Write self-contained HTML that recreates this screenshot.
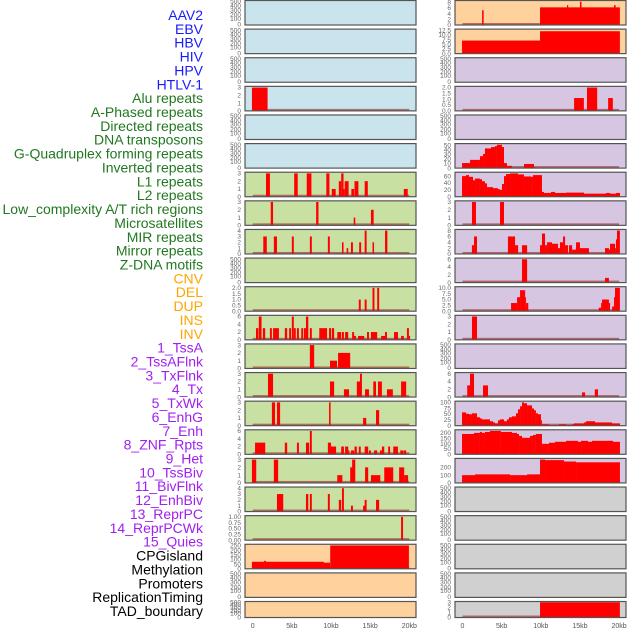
<!DOCTYPE html>
<html><head><meta charset="utf-8">
<style>
html,body{margin:0;padding:0;background:#fff;}
svg{display:block;font-family:"Liberation Sans",sans-serif;}
</style></head>
<body>
<svg id="chart" width="630" height="630" viewBox="0 0 630 630" xmlns="http://www.w3.org/2000/svg">
<g id="labels"></g>
<g id="panels"></g>
<g id="xaxes"></g>
</svg>
<script>
const featureLabels = ["AAV2","EBV","HBV","HIV","HPV","HTLV-1","Alu repeats","A-Phased repeats","Directed repeats","DNA transposons","G-Quadruplex forming repeats","Inverted repeats","L1 repeats","L2 repeats","Low_complexity A/T rich regions","Microsatellites","MIR repeats","Mirror repeats","Z-DNA motifs","CNV","DEL","DUP","INS","INV","1_TssA","2_TssAFlnk","3_TxFlnk","4_Tx","5_TxWk","6_EnhG","7_Enh","8_ZNF_Rpts","9_Het","10_TssBiv","11_BivFlnk","12_EnhBiv","13_ReprPC","14_ReprPCWk","15_Quies","CPGisland","Methylation","Promoters","ReplicationTiming","TAD_boundary"];
const labelGroups = [0,0,0,0,0,0,1,1,1,1,1,1,1,1,1,1,1,1,1,2,2,2,2,2,3,3,3,3,3,3,3,3,3,3,3,3,3,3,3,4,4,4,4,4];
const groupColors = ["#1a1aff","#217821","#ffa500","#a020f0","#000000"];
const panelGroupBg = ["#c9e4ec","#c8e1a3","#ffd19d","#d7c6e2","#d0d0d0"];
const xTickValues = [0,5,10,15,20];
const xTickLabels = ["0","5kb","10kb","15kb","20kb"];
const emptyTickLabels = ["500","400","300","200","100","0"];

// Left column panels (rows 0-21), bars: [startKb, endKb, value]
const bars_AAV2 = [], bars_EBV = [], bars_HBV = [];
const bars_HIV = [[-0.1,1.9,3]];
const bars_HPV = [], bars_HTLV1 = [];
const bars_Alu = [[1.7,2.2,3],[5.3,5.75,3],[6.9,7.5,3],[9.4,9.8,3],[10.1,10.6,1],[11.0,11.3,2],[11.3,11.6,3],[11.6,11.75,1],[11.75,12.25,2],[12.6,12.95,1],[13.0,13.5,2],[14.3,14.7,2],[19.3,19.8,1]];
const bars_APhased = [[2.3,2.6,3],[8.1,8.4,3],[12.9,13.1,1],[15.1,15.45,2]];
const bars_Directed = [[1.35,1.8,3],[2.7,3.1,3],[5.0,5.25,3],[7.3,7.55,3],[9.6,9.85,3],[11.4,11.6,2],[12.0,12.2,1],[12.55,12.8,2],[13.6,13.85,2],[14.3,14.55,4],[15.3,15.5,2],[16.9,17.2,4]];
const bars_DNAtrans = [];
const bars_GQuad = [[13.55,13.8,1],[14.3,14.55,1],[15.3,15.55,2],[15.9,16.15,2]];
const bars_Inverted = [[0.42,0.72,3],[0.78,1.13,6],[1.3,1.6,3],[2.2,2.45,3],[2.6,3.35,3],[4.1,4.4,3],[4.65,4.9,3],[5.0,5.25,6],[5.25,5.5,3],[5.65,5.9,3],[6.2,6.45,3],[6.55,6.8,3],[6.8,7.1,6],[7.3,7.55,3],[8.5,9.5,3],[9.75,10.0,3],[10.1,10.4,3],[10.8,11.3,2],[11.4,11.65,2],[11.8,12.2,2],[12.7,12.95,2],[12.95,13.2,1],[13.45,14.25,1],[14.6,14.85,2],[15.1,15.9,2],[16.4,16.9,1],[16.9,17.15,2],[18.05,18.55,2],[18.95,19.3,1],[19.7,19.95,3],[19.95,20.1,1]];
const bars_L1 = [[7.3,7.85,3],[9.87,10.77,1],[10.9,12.45,2]];
const bars_L2 = [[1.95,2.6,3],[9.87,10.4,2],[11.65,12.3,1],[13.3,13.8,2],[13.7,13.95,3],[14.35,14.85,1],[15.4,15.75,2],[16.0,16.5,2],[17.15,17.9,1],[18.95,19.6,2]];
const bars_LowComp = [[2.45,2.85,3],[3.1,3.5,3],[9.75,9.95,3],[14.1,14.5,1],[15.75,16.15,2]];
const bars_Micro = [[0.3,0.8,3],[0.8,1.6,3],[4.1,4.4,3],[5.65,5.9,3],[6.8,7.2,3],[7.3,7.55,6],[9.6,10.0,3],[10.0,10.65,2],[11.3,11.65,2],[11.8,12.2,2],[12.2,12.35,1],[12.55,12.95,1],[13.0,13.3,2],[13.55,13.8,2],[14.3,14.75,2],[14.85,15.1,1],[15.5,15.9,1],[16.25,16.5,1],[16.5,16.8,2],[17.3,17.55,2],[17.95,18.55,2],[18.85,19.25,1],[19.3,19.6,1]];
const bars_MIR = [[-0.1,0.45,3],[2.7,3.25,3],[10.8,11.45,1],[12.45,12.95,2],[12.7,13.1,3],[14.35,14.75,2],[15.1,16.3,1],[16.8,17.95,2],[18.7,19.35,2],[19.35,19.85,1]];
const bars_Mirror = [[3.1,3.9,3],[6.8,7.1,3],[7.3,7.55,3],[9.6,9.85,3],[11.0,11.3,2],[11.4,11.65,4],[12.55,12.8,1],[14.1,14.35,1],[14.3,14.55,2],[15.75,16.15,2]];
const bars_ZDNA = [[18.95,19.2,1]];
const bars_CNV = [[-0.1,1.45,75],[1.45,1.7,85],[1.7,9.1,75],[9.1,9.9,65],[9.9,19.95,250]];
const bars_DEL = [], bars_DUP = [];
// Right column panels (rows 0-21)
const bars_INS = [[2.5,2.7,5.2],[9.9,20.1,6.2],[13.35,13.5,7],[15.0,15.2,8.2],[19.35,19.55,7]];
const bars_INV = [[-0.06,9.9,7],[9.9,20.1,12]];
const bars_TssA = [];
const bars_TssAFlnk = [[14.25,15.5,1.1],[15.9,17.2,2],[18.6,19.2,1.1]];
const bars_TxFlnk = [];
const bars_Tx = [[-0.06,0.96,11],[0.96,1.85,18],[1.85,2.23,18],[2.23,2.62,26],[2.62,2.87,31],[2.87,3.64,43],[3.64,4.15,46],[4.15,4.4,48],[4.4,5.04,51],[5.04,5.3,46],[5.3,5.68,11],[5.68,6.3,5],[7.85,9.13,9],[9.13,9.3,2]];
const bars_TxWk = [[-0.06,0.45,60],[0.45,0.83,63],[0.83,1.34,58],[1.34,1.6,48],[1.6,2.23,53],[2.23,2.49,51],[2.49,2.87,45],[2.87,3.13,39],[3.13,3.9,28],[3.9,4.53,25],[4.53,4.79,22],[4.79,5.04,20],[5.04,5.3,37],[5.3,5.56,60],[5.56,6.07,66],[6.07,7.09,68],[7.09,7.85,65],[7.85,8.75,59],[8.75,9.0,58],[9.0,10.15,63],[10.15,10.41,14],[10.41,11.3,11],[11.3,11.81,14],[11.81,13.22,11],[13.22,15.52,12],[15.52,18.33,9],[18.33,18.84,11],[18.84,19.6,9],[19.6,20.11,11]];
const bars_EnhG = [[1.21,1.72,3],[4.79,5.3,3]];
const bars_Enh = [[1.2,1.47,3],[1.47,1.85,6],[5.8,6.71,6],[6.71,7.1,3],[7.6,8.25,3],[9.9,10.15,3],[10.15,10.54,7],[10.54,10.8,3],[10.8,11.43,4],[11.43,12.2,3.5],[12.2,12.45,2],[12.45,12.84,4],[12.84,13.1,6],[13.1,13.47,3],[13.6,14.0,3],[14.0,14.5,1.5],[14.5,15.0,4],[15.0,15.26,2],[15.26,16.15,2],[18.2,18.7,2],[18.7,18.84,1.5],[18.84,19.48,3.5],[19.48,19.6,2],[19.6,19.73,5],[19.73,20.1,8]];
const bars_ZNF = [[7.6,8.25,6],[18.2,18.7,1.2]];
const bars_Het = [[6.2,6.97,3.5],[6.97,7.35,6],[7.35,8.0,9],[8.0,8.12,6],[8.12,8.4,3.5],[17.4,17.7,1.5],[17.7,17.82,3.5],[17.82,18.7,5],[18.7,18.85,3.5],[19.1,19.35,2],[19.35,19.48,6],[19.48,20.1,10]];
const bars_TssBiv = [[1.21,1.85,3]];
const bars_BivFlnk = [];
const bars_EnhBiv = [[0.6,0.96,3],[0.96,1.47,6],[2.62,3.26,3],[15.26,15.65,1.2],[16.9,17.3,2]];
const bars_ReprPC = [[-0.06,0.45,57],[0.45,0.83,51],[0.83,1.21,49],[1.21,1.85,53],[1.85,2.23,36],[2.23,2.49,31],[2.49,3.51,27],[3.51,3.9,19],[3.9,4.15,14],[4.15,4.53,10],[4.53,4.79,23],[4.79,5.3,27],[5.3,5.68,19],[5.68,5.94,27],[5.94,6.32,36],[6.32,6.83,40],[6.83,7.09,53],[7.09,7.35,70],[7.35,7.6,83],[7.6,7.85,100],[7.85,8.24,96],[8.24,8.87,87],[8.87,9.13,74],[9.13,9.38,66],[9.38,9.64,53],[9.64,10.02,49],[10.02,10.15,23],[10.15,11.04,6],[11.04,12.32,1],[12.32,13.22,6],[13.22,13.99,3],[13.99,14.24,6],[14.24,15.52,10],[15.52,15.78,14],[15.78,16.92,19],[16.92,19.1,14],[19.1,20.11,10]];
const bars_ReprPCWk = [[-0.06,1.47,190],[1.47,2.23,200],[2.23,2.49,209],[2.49,2.87,200],[2.87,3.51,209],[3.51,4.91,218],[4.91,6.32,209],[6.32,6.96,200],[6.96,7.22,190],[7.22,7.6,172],[7.6,8.62,154],[8.62,9.0,172],[9.0,9.38,181],[9.38,10.15,190],[10.15,11.04,98],[11.04,11.81,108],[11.81,13.22,117],[13.22,14.75,126],[14.75,15.14,117],[15.14,16.03,126],[16.03,16.54,117],[16.54,19.22,126],[19.22,20.11,117]];
const bars_Quies = [[-0.06,1.6,100],[1.6,6.07,110],[6.07,8.24,100],[8.24,9.9,110],[9.9,10.54,300],[10.54,12.96,293],[12.96,14.5,275],[14.5,20.11,265]];
const bars_CPG = [], bars_Meth = [], bars_Prom = [], bars_RepT = [];
const bars_TAD = [[9.9,20.1,3]];

const leftBars = [bars_AAV2,bars_EBV,bars_HBV,bars_HIV,bars_HPV,bars_HTLV1,bars_Alu,bars_APhased,bars_Directed,bars_DNAtrans,bars_GQuad,bars_Inverted,bars_L1,bars_L2,bars_LowComp,bars_Micro,bars_MIR,bars_Mirror,bars_ZDNA,bars_CNV,bars_DEL,bars_DUP];
const rightBars = [bars_INS,bars_INV,bars_TssA,bars_TssAFlnk,bars_TxFlnk,bars_Tx,bars_TxWk,bars_EnhG,bars_Enh,bars_ZNF,bars_Het,bars_TssBiv,bars_BivFlnk,bars_EnhBiv,bars_ReprPC,bars_ReprPCWk,bars_Quies,bars_CPG,bars_Meth,bars_Prom,bars_RepT,bars_TAD];
const leftTicks = [null,null,null,["0","1","2","3"],null,null,["0","1","2","3"],["0","1","2","3"],["0","1","2","3","4"],null,["0.0","0.5","1.0","1.5","2.0"],["0","2","4","6"],["0","1","2","3"],["0","1","2","3"],["0","1","2","3"],["0","2","4","6"],["0","1","2","3"],["0","1","2","3","4"],["0.00","0.25","0.50","0.75","1.00"],["0","50","100","150","200","250"],null,null];
const rightTicks = [["0","2","4","6","8"],["0.0","2.5","5.0","7.5","10.0","12.5"],null,["0.0","0.5","1.0","1.5","2.0"],null,["0","10","20","30","40","50"],["0","20","40","60"],["0","1","2","3"],["0","2","4","6","8"],["0","2","4","6"],["0.0","2.5","5.0","7.5","10.0"],["0","1","2","3"],null,["0","2","4","6"],["0","25","50","75","100"],["0","50","100","150","200"],["0","100","200"],null,null,null,null,["0","1","2","3"]];

const NS = "http://www.w3.org/2000/svg";
function mk(tag, attrs, parent){ const e=document.createElementNS(NS,tag); for(const k in attrs) e.setAttribute(k,attrs[k]); parent.appendChild(e); return e; }

const labelsG = document.getElementById("labels");
featureLabels.forEach((t,i)=>{
  const el = mk("text",{x:203,y:15+i*13.86+5,"text-anchor":"end","font-size":"14",fill:groupColors[labelGroups[i]]},labelsG);
  
  
  el.textContent = t;
});

const panelsG = document.getElementById("panels");
const PITCH = 28.62;
const cols = [
  {left:245, right:416, x0:252.7, bars:leftBars, ticks:leftTicks, groupOffset:0, tickX:241},
  {left:455, right:626, x0:462.5, bars:rightBars, ticks:rightTicks, groupOffset:22, tickX:451}
];
const KB = 7.83;
cols.forEach((c,ci)=>{
  const xs = kb => c.x0 + kb*KB;
  c.bars.forEach((bars,r)=>{
    const top = 0.5 + r*PITCH;
    const h = (r===21) ? 16 : 24.5;
    const bot = top + h;
    const g = mk("g",{},panelsG);
    
    
    const bg = panelGroupBg[labelGroups[c.groupOffset + r]];
    const bgr = mk("rect",{x:c.left,y:top,width:c.right-c.left,height:h,fill:bg},g);
    
    
    const tk = c.ticks[r];
    let maxV = 0;
    bars.forEach(b=>{ if(b[2]>maxV) maxV=b[2]; });
    if (tk) {
      const tickMax = parseFloat(tk[tk.length-1]);
      const ymax = Math.max(maxV, tickMax) * 1.05;
      const ys = v => bot - v/ymax*h;
      const base = mk("rect",{x:xs(0),y:bot-2,width:xs(20)-xs(0),height:2,fill:"rgba(150,20,20,0.55)"},g);
      
      
      bars.forEach(b=>{
        const rr = mk("rect",{x:xs(b[0]),y:ys(b[2]),width:Math.max(0.8,xs(b[1])-xs(b[0])),height:bot-ys(b[2]),fill:"#ff0000"},g);
        
        
      });
      tk.forEach(t=>{
        const v = parseFloat(t);
        const tt = mk("text",{x:c.tickX,y:ys(v)+2.2,"text-anchor":"end","font-size":"6.5",fill:"#666"},g);
        
        
        tt.textContent = t;
      });
    } else {
      const fr = [0.04,0.21,0.39,0.58,0.74,0.98];
      emptyTickLabels.forEach((t,k)=>{
        const tt = mk("text",{x:c.tickX,y:top+fr[k]*h+2.2,"text-anchor":"end","font-size":"6.5",fill:"#666"},g);
        
        
        tt.textContent = t;
      });
    }
    const border = mk("rect",{x:c.left,y:top,width:c.right-c.left,height:h,fill:"none",stroke:"#555","stroke-width":"1.2"},g);
    
    
  });
  const xg = document.getElementById("xaxes");
  xTickValues.forEach((v,k)=>{
    const tt = mk("text",{x:xs(v),y:628,"text-anchor":"middle","font-size":"7",fill:"#555"},xg);
    
    
    tt.textContent = xTickLabels[k];
  });
});
</script>
</body></html>
